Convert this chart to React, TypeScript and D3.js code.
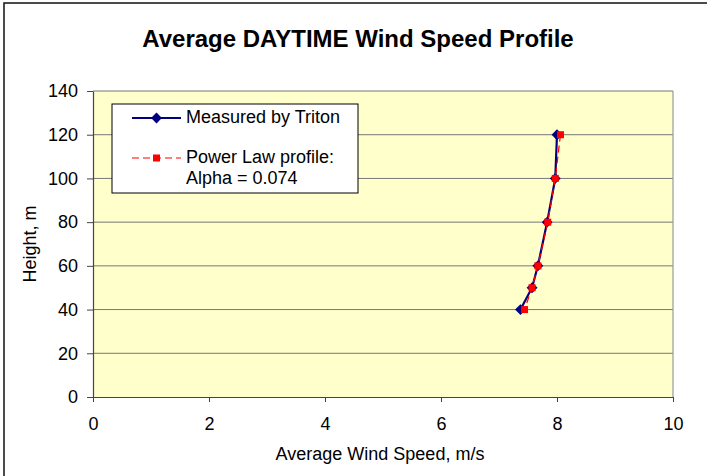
import React, { useEffect, useRef } from 'react';
import * as d3 from 'd3';

// Data
const heights = [120, 100, 80, 60, 50, 40];
const measured = [8.0, 7.97, 7.83, 7.67, 7.57, 7.37];
const powerLaw = [8.06, 7.97, 7.84, 7.67, 7.57, 7.44];
const xTicks = [0, 2, 4, 6, 8, 10];
const yTicks = [0, 20, 40, 60, 80, 100, 120, 140];

const App = () => {
  const chartRef = useRef<SVGSVGElement | null>(null);

  useEffect(() => {
    const W = 707;
    const H = 476;
    const margin = { top: 91, right: 34, bottom: 79, left: 93 };
    const width = W - margin.left - margin.right;
    const height = H - margin.top - margin.bottom;
    const font = 'Arial, "Liberation Sans", sans-serif';

    const root = d3.select(chartRef.current);
    root.selectAll('*').remove();

    // outer frame
    root.append('rect')
      .attr('x', 4).attr('y', 3)
      .attr('width', 760).attr('height', 520)
      .attr('fill', 'white')
      .attr('stroke', '#111')
      .attr('stroke-width', 1.5);

    // title
    root.append('text')
      .attr('x', 358)
      .attr('y', 47)
      .attr('text-anchor', 'middle')
      .attr('font-family', font)
      .attr('font-weight', 'bold')
      .attr('font-size', '24px')
      .text('Average DAYTIME Wind Speed Profile');

    const svg = root.append('g')
      .attr('transform', `translate(${margin.left},${margin.top})`);

    const x = d3.scaleLinear().domain([0, 10]).range([0, width]);
    const y = d3.scaleLinear().domain([0, 140]).range([height, 0]);

    // plot background
    svg.append('rect')
      .attr('width', width)
      .attr('height', height)
      .attr('fill', '#ffffcc');

    // gridlines
    svg.append('g')
      .selectAll('line')
      .data(yTicks.filter(d => d > 0))
      .enter()
      .append('line')
      .attr('x1', 0).attr('x2', width)
      .attr('y1', d => y(d)).attr('y2', d => y(d))
      .attr('stroke', '#777')
      .attr('stroke-width', 1);

    // right border
    svg.append('line')
      .attr('x1', width).attr('x2', width)
      .attr('y1', 0).attr('y2', height)
      .attr('stroke', '#999')
      .attr('stroke-width', 1.2);

    // X axis
    const xAxis = svg.append('g')
      .attr('transform', `translate(0,${height})`)
      .call(d3.axisBottom(x).tickValues(xTicks).tickSizeInner(5).tickSizeOuter(0).tickPadding(15));
    xAxis.select('.domain').attr('stroke', '#444').attr('stroke-width', 1.2);
    xAxis.selectAll('.tick line').attr('stroke', '#444');
    xAxis.selectAll('text')
      .attr('font-family', font)
      .attr('font-size', '18px')
      .attr('fill', '#000');

    // Y axis
    const yAxis = svg.append('g')
      .call(d3.axisLeft(y).tickValues(yTicks).tickSizeInner(6).tickSizeOuter(0).tickPadding(9));
    yAxis.select('.domain').attr('stroke', '#444').attr('stroke-width', 1.2);
    yAxis.selectAll('.tick line').attr('stroke', '#444');
    yAxis.selectAll('text')
      .attr('font-family', font)
      .attr('font-size', '18px')
      .attr('fill', '#000');

    // axis titles
    svg.append('text')
      .attr('x', width / 2 - 3)
      .attr('y', height + 63)
      .attr('text-anchor', 'middle')
      .attr('font-family', font)
      .attr('font-size', '18px')
      .text('Average Wind Speed, m/s');

    svg.append('text')
      .attr('transform', 'rotate(-90)')
      .attr('x', -height / 2)
      .attr('y', -57)
      .attr('text-anchor', 'middle')
      .attr('font-family', font)
      .attr('font-size', '18px')
      .text('Height, m');

    // Measured series
    const measuredPts = heights.map((h, i) => [measured[i], h] as [number, number]);
    const powerPts = heights.map((h, i) => [powerLaw[i], h] as [number, number]);
    const line = d3.line<[number, number]>().x(d => x(d[0])).y(d => y(d[1]));

    svg.append('path')
      .datum(measuredPts)
      .attr('d', line)
      .attr('fill', 'none')
      .attr('stroke', '#000080')
      .attr('stroke-width', 2.2);

    const diamond = d3.symbol().type(d3.symbolDiamond2).size(75);
    svg.selectAll('.mpt')
      .data(measuredPts)
      .enter()
      .append('path')
      .attr('class', 'mpt')
      .attr('d', diamond)
      .attr('transform', d => `translate(${x(d[0])},${y(d[1])})`)
      .attr('fill', '#000080');

    // Power law series
    svg.append('path')
      .datum(powerPts)
      .attr('d', line)
      .attr('fill', 'none')
      .attr('stroke', '#ff0000')
      .attr('stroke-width', 1.2)
      .attr('stroke-dasharray', '7,4');

    svg.selectAll('.ppt')
      .data(powerPts)
      .enter()
      .append('rect')
      .attr('class', 'ppt')
      .attr('x', d => x(d[0]) - 3.5)
      .attr('y', d => y(d[1]) - 3.5)
      .attr('width', 7)
      .attr('height', 7)
      .attr('fill', '#ff0000');

    // Legend
    const lg = root.append('g').attr('transform', 'translate(112,104)');
    lg.append('rect')
      .attr('width', 246)
      .attr('height', 89)
      .attr('fill', 'white')
      .attr('stroke', '#000')
      .attr('stroke-width', 1);

    lg.append('line')
      .attr('x1', 20).attr('x2', 69)
      .attr('y1', 14).attr('y2', 14)
      .attr('stroke', '#000080')
      .attr('stroke-width', 2.2);
    lg.append('path')
      .attr('d', diamond)
      .attr('transform', 'translate(44.5,14)')
      .attr('fill', '#000080');
    lg.append('text')
      .attr('x', 74).attr('y', 19)
      .attr('font-family', font)
      .attr('font-size', '18px')
      .text('Measured by Triton');

    lg.append('line')
      .attr('x1', 20).attr('x2', 69)
      .attr('y1', 54).attr('y2', 54)
      .attr('stroke', '#ff0000')
      .attr('stroke-width', 1.2)
      .attr('stroke-dasharray', '7,4');
    lg.append('rect')
      .attr('x', 41).attr('y', 50.5)
      .attr('width', 7).attr('height', 7)
      .attr('fill', '#ff0000');
    lg.append('text')
      .attr('x', 74).attr('y', 59)
      .attr('font-family', font)
      .attr('font-size', '18px')
      .text('Power Law profile:');
    lg.append('text')
      .attr('x', 74).attr('y', 80)
      .attr('font-family', font)
      .attr('font-size', '18px')
      .text('Alpha = 0.074');
  }, []);

  return (
    <svg
      ref={chartRef}
      width={707}
      height={476}
      style={{ position: 'absolute', left: 0, top: 0, display: 'block' }}
    />
  );
};

export default App;
